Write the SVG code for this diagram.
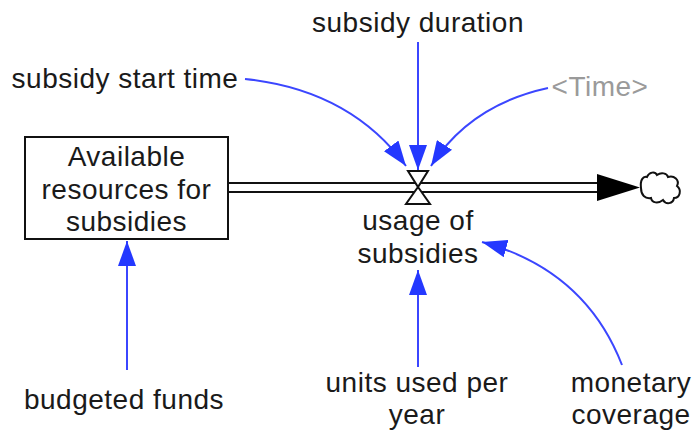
<svg xmlns="http://www.w3.org/2000/svg" width="694" height="430" viewBox="0 0 694 430">
  <style>
    text { font-family: "Liberation Sans", Arial, sans-serif; font-size: 28px; letter-spacing: 0.5px; fill: #1a1a1a; text-anchor: middle; }
    .shadow { fill: #9a9a9a; }
    .link { fill: none; stroke: #3b46ff; stroke-width: 2; }
    .pipe { fill: none; stroke: #111; stroke-width: 2; }
  </style>
  <defs>
    <marker id="head" viewBox="0 0 25 18" refX="25" refY="9" markerWidth="25" markerHeight="18" markerUnits="userSpaceOnUse" orient="auto">
      <path d="M0,0 L25,9 L0,18 Z" fill="#2438ff"/>
    </marker>
  </defs>

  <rect width="694" height="430" fill="#ffffff"/>

  <!-- flow pipe, valve, arrowhead and sink cloud -->
  <g id="flow-usage">
    <line class="pipe" x1="228" y1="183" x2="600" y2="183"/>
    <line class="pipe" x1="228" y1="192" x2="600" y2="192"/>
    <path d="M597,174 L640,187.5 L597,201 Z" fill="#000"/>
    <path d="M408,171 L428,171 L418,187 Z M418,187 L430,204 L406,204 Z" fill="#fff" stroke="#111" stroke-width="2"/>
    <text x="418" y="230">usage of</text>
    <text x="418" y="263">subsidies</text>
  </g>

  <g id="cloud">
    <path d="M641,188 C640,180 643,176 647,177 C649,172 655,171 657,175 C661,172 667,173 668,177 C674,175 680,180 677,186 C682,190 680,198 674,198 C673,204 666,205 663,200 C658,204 652,203 651,198 C645,199 641,195 641,188 Z" fill="#fff" stroke="#111" stroke-width="2"/>
  </g>

  <g id="stock-resources">
    <rect x="25" y="137" width="203" height="102" fill="#fff" stroke="#111" stroke-width="2"/>
    <text x="126.5" y="166">Available</text>
    <text x="126.5" y="199">resources for</text>
    <text x="126.5" y="231">subsidies</text>
  </g>

  <g id="var-subsidy-duration"><text x="418" y="32">subsidy duration</text></g>
  <g id="var-subsidy-start-time"><text x="125" y="88">subsidy start time</text></g>
  <g id="var-time"><text class="shadow" x="600" y="96">&lt;Time&gt;</text></g>
  <g id="var-budgeted-funds"><text x="124" y="409">budgeted funds</text></g>
  <g id="var-units-used">
    <text x="417" y="392">units used per</text>
    <text x="417" y="424">year</text>
  </g>
  <g id="var-monetary-coverage">
    <text x="631" y="392">monetary</text>
    <text x="631" y="424">coverage</text>
  </g>

  <!-- information links -->
  <g id="connectors">
    <line class="link" x1="418" y1="42" x2="418" y2="170" marker-end="url(#head)"/>
    <path class="link" d="M245,79 Q350,90 406,166" marker-end="url(#head)"/>
    <path class="link" d="M548,88 Q470,105 431,166" marker-end="url(#head)"/>
    <line class="link" x1="127" y1="370" x2="127" y2="241" marker-end="url(#head)"/>
    <line class="link" x1="418" y1="367" x2="418" y2="270" marker-end="url(#head)"/>
    <path class="link" d="M622,365 Q585,270 482,242" marker-end="url(#head)"/>
  </g>
</svg>
